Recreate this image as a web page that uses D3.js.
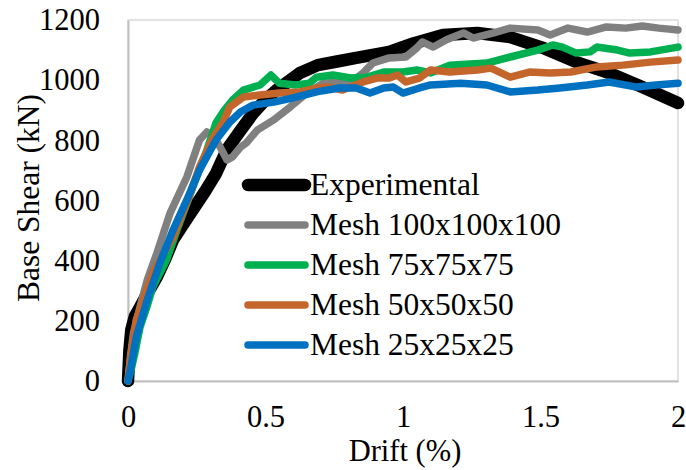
<!DOCTYPE html>
<html>
<head>
<meta charset="utf-8">
<script src="https://cdn.jsdelivr.net/npm/d3@7"></script>
<style>
  body { margin: 0; background: #fff; }
</style>
</head>
<body>
<div id="chart"></div>
<script>
// series names
const names = ['Experimental', 'Mesh 100x100x100', 'Mesh 75x75x75', 'Mesh 50x50x50', 'Mesh 25x25x25'];

// [drift %, base shear kN]
const experimental = [[0,0],[0.005,100],[0.012,170],[0.025,215],[0.044,246],[0.07,290],[0.105,346],[0.135,405],[0.164,469],[0.2,520],[0.24,575],[0.28,630],[0.32,690],[0.36,770],[0.41,834],[0.455,890],[0.5,935],[0.54,967],[0.59,1000],[0.625,1024],[0.69,1050],[0.76,1062],[0.83,1074],[0.95,1094],[1.04,1123],[1.145,1150],[1.27,1157],[1.39,1143],[1.51,1107],[1.63,1060],[1.75,1024],[1.87,977],[2.0,924]];
const mesh100 = [[0,0],[0.01,90],[0.02,160],[0.045,250],[0.07,336],[0.105,425],[0.153,558],[0.214,678],[0.26,801],[0.287,828],[0.31,815],[0.335,778],[0.36,735],[0.38,745],[0.41,778],[0.43,791],[0.47,834],[0.53,868],[0.59,911],[0.65,957],[0.71,990],[0.77,994],[0.82,1000],[0.855,1024],[0.89,1057],[0.95,1074],[1.01,1077],[1.05,1107],[1.07,1127],[1.11,1110],[1.16,1135],[1.22,1157],[1.255,1140],[1.33,1157],[1.39,1173],[1.49,1167],[1.535,1150],[1.6,1173],[1.67,1160],[1.74,1177],[1.81,1173],[1.87,1180],[1.93,1173],[2.0,1167]];
const mesh75 = [[0,0],[0.012,40],[0.025,93],[0.044,180],[0.07,250],[0.09,312],[0.14,402],[0.178,502],[0.236,645],[0.287,768],[0.32,858],[0.35,900],[0.38,934],[0.42,967],[0.48,984],[0.52,1017],[0.55,990],[0.61,984],[0.66,990],[0.686,1010],[0.745,1017],[0.81,1007],[0.87,1010],[0.93,1027],[1.0,1027],[1.05,1034],[1.1,1024],[1.17,1050],[1.305,1057],[1.39,1077],[1.49,1100],[1.545,1117],[1.58,1110],[1.63,1090],[1.68,1094],[1.705,1110],[1.78,1100],[1.825,1090],[1.9,1094],[2.0,1110]];
const mesh50 = [[0,0],[0.01,80],[0.03,203],[0.09,359],[0.164,479],[0.214,592],[0.26,711],[0.31,811],[0.345,858],[0.37,911],[0.42,944],[0.48,951],[0.55,957],[0.625,961],[0.69,974],[0.73,977],[0.78,967],[0.855,994],[0.905,1007],[0.95,1007],[0.98,1017],[1.01,994],[1.06,1007],[1.1,1034],[1.17,1027],[1.27,1034],[1.32,1040],[1.39,1010],[1.46,1027],[1.535,1024],[1.61,1027],[1.705,1044],[1.8,1050],[1.9,1060],[2.0,1067]];
const mesh25 = [[0,0],[0.007,27],[0.03,146],[0.07,269],[0.116,392],[0.164,502],[0.214,602],[0.26,701],[0.32,801],[0.37,860],[0.41,895],[0.455,917],[0.53,927],[0.6,941],[0.69,962],[0.77,974],[0.83,974],[0.88,957],[0.93,974],[0.965,977],[1.0,957],[1.06,974],[1.1,984],[1.21,990],[1.305,984],[1.39,961],[1.49,967],[1.57,974],[1.67,984],[1.75,994],[1.85,977],[1.92,984],[2.0,990]];

const xTicks = [0, 0.5, 1, 1.5, 2];
const yTicks = [0, 200, 400, 600, 800, 1000, 1200];

const series = [experimental, mesh100, mesh75, mesh50, mesh25];
const colors = ['#000000', '#808080', '#00b050', '#c4652b', '#0070c0'];
const widths = [12.5, 7.5, 7.5, 7.5, 7.5];

const W = 686, H = 470;
const pLeft = 128, pRight = 678, pTop = 20, pBottom = 381;
const font = '"Liberation Serif", "Times New Roman", serif';
const fs = 31.5;   // legend + y title
const tfs = 30.5;  // tick labels + x title

const svg = d3.select('#chart')
    .append('svg')
    .attr('width', W)
    .attr('height', H)
    .style('font-family', font);

const x = d3.scaleLinear().domain([0, 2]).range([pLeft, pRight]);
const y = d3.scaleLinear().domain([0, 1200]).range([pBottom, pTop]);

// plot frame
svg.append('rect')
    .attr('x', pLeft).attr('y', pTop)
    .attr('width', pRight - pLeft).attr('height', pBottom - pTop)
    .attr('fill', 'none')
    .attr('stroke', '#d9d9d9')
    .attr('stroke-width', 1.5);

// axes
const xAxis = svg.append('g')
    .attr('transform', `translate(0,${pBottom})`)
    .call(d3.axisBottom(x).tickValues(xTicks).tickSize(0).tickPadding(24).tickFormat(d3.format('')));
const yAxis = svg.append('g')
    .attr('transform', `translate(${pLeft},0)`)
    .call(d3.axisLeft(y).tickValues(yTicks).tickSize(0).tickPadding(28).tickFormat(d3.format('d')));

[xAxis, yAxis].forEach(a => {
    a.style('font-family', font).attr('font-family', null).attr('font-size', null);
    a.select('.domain').attr('stroke', '#bfbfbf').attr('stroke-width', 2);
    a.selectAll('text')
        .style('font-family', font)
        .style('font-size', tfs + 'px')
        .attr('fill', '#000');
});

// axis titles
svg.append('text')
    .attr('x', (pLeft + pRight) / 2 + 2)
    .attr('y', 461)
    .attr('text-anchor', 'middle')
    .style('font-size', tfs + 'px')
    .text('Drift (%)');

svg.append('text')
    .attr('transform', 'translate(39,198) rotate(-90)')
    .attr('text-anchor', 'middle')
    .style('font-size', fs + 'px')
    .text('Base Shear (kN)');

// curves
const line = d3.line()
    .x(d => x(d[0]))
    .y(d => y(d[1]));

svg.append('g')
    .selectAll('path')
    .data(series)
    .enter()
    .append('path')
    .attr('d', line)
    .attr('fill', 'none')
    .attr('stroke', (d, i) => colors[i])
    .attr('stroke-width', (d, i) => widths[i])
    .attr('stroke-linejoin', 'round')
    .attr('stroke-linecap', 'round');

// legend
const legend = svg.append('g')
    .selectAll('g')
    .data(names)
    .enter()
    .append('g')
    .attr('transform', (d, i) => `translate(0,${185 + i * 40})`);

legend.append('line')
    .attr('x1', 248).attr('x2', 305)
    .attr('y1', 0).attr('y2', 0)
    .attr('stroke', (d, i) => colors[i])
    .attr('stroke-width', (d, i) => widths[i])
    .attr('stroke-linecap', 'round');

legend.append('text')
    .attr('x', 310)
    .attr('y', 10)
    .style('font-size', fs + 'px')
    .text(d => d);
</script>
</body>
</html>
